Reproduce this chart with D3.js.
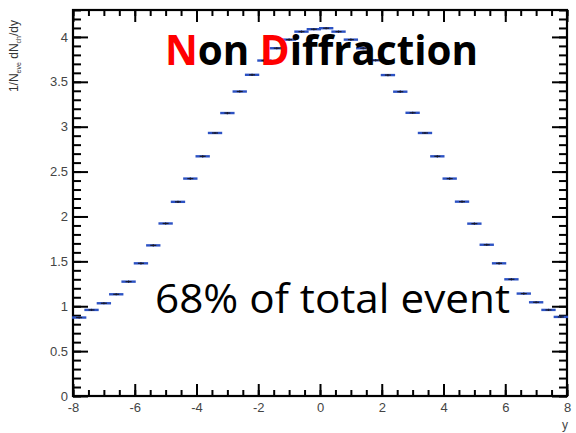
<!DOCTYPE html>
<html>
<head>
<meta charset="utf-8">
<script src="https://cdn.jsdelivr.net/npm/d3@7"></script>
<style>
  body { margin: 0; background: #fff; }
  .tick text { font-family: "Liberation Sans", Arial, sans-serif; fill: #444; }
</style>
</head>
<body>
<div id="chart"></div>
<script>
// bin centres (width 0.4) and the measured dN/dy per bin
var binCenters = d3.range(40).map(function(i) { return +(-7.8 + i * 0.4).toFixed(1); });
var binValues = [
  0.874, 0.959, 1.033, 1.133, 1.274, 1.478, 1.678, 1.922, 2.163, 2.422,
  2.670, 2.930, 3.152, 3.392, 3.578, 3.737, 3.874, 3.970, 4.059, 4.086,
  4.097, 4.059, 3.970, 3.874, 3.740, 3.575, 3.390, 3.155, 2.930, 2.670,
  2.422, 2.165, 1.920, 1.685, 1.478, 1.300, 1.141, 1.044, 0.959, 0.881
];
var binErrors = binValues.map(function(v) { return 0.012; });
var xMajorTicks = [-8, -6, -4, -2, 0, 2, 4, 6, 8];
var yMajorTicks = [0, 0.5, 1, 1.5, 2, 2.5, 3, 3.5, 4];

var margin = {top: 10, right: 9, bottom: 37, left: 73},
    width = 576 - margin.left - margin.right,
    height = 433 - margin.top - margin.bottom;

var svg = d3.select("#chart")
  .append("svg")
    .attr("width", 576)
    .attr("height", 433)
  .append("g")
    .attr("transform", "translate(" + margin.left + "," + margin.top + ")");

var x = d3.scaleLinear().domain([-8, 8]).range([0, width]);
var y = d3.scaleLinear().domain([0, 4.3]).range([height, 0]);

var xMinor = d3.range(-8, 8.01, 0.5);
var yMinor = d3.range(0, 4.31, 0.1);
var plainNum = function(d) { return String(d); };

function styleAxis(g) {
  g.select(".domain").remove();
  g.selectAll(".tick line").attr("stroke", "#000").attr("stroke-width", 2);
}

// bottom axis (ticks point inward)
svg.append("g")
  .attr("transform", "translate(0," + height + ")")
  .call(d3.axisBottom(x).tickValues(xMinor).tickSize(-6).tickFormat(""))
  .call(styleAxis);
svg.append("g")
  .attr("transform", "translate(0," + height + ")")
  .call(d3.axisBottom(x).tickValues(xMajorTicks).tickSize(-12).tickPadding(7).tickFormat(plainNum))
  .call(styleAxis)
  .selectAll("text").style("font-size", "13px");

// top axis
svg.append("g")
  .call(d3.axisTop(x).tickValues(xMinor).tickSize(-6).tickFormat(""))
  .call(styleAxis);
svg.append("g")
  .call(d3.axisTop(x).tickValues(xMajorTicks).tickSize(-12).tickFormat(""))
  .call(styleAxis);

// left axis
svg.append("g")
  .call(d3.axisLeft(y).tickValues(yMinor).tickSize(-8).tickFormat(""))
  .call(styleAxis);
svg.append("g")
  .call(d3.axisLeft(y).tickValues(yMajorTicks).tickSize(-15).tickPadding(5).tickFormat(plainNum))
  .call(styleAxis)
  .selectAll("text").style("font-size", "13px");

// right axis
svg.append("g")
  .attr("transform", "translate(" + width + ",0)")
  .call(d3.axisRight(y).tickValues(yMinor).tickSize(-8).tickFormat(""))
  .call(styleAxis);
svg.append("g")
  .attr("transform", "translate(" + width + ",0)")
  .call(d3.axisRight(y).tickValues(yMajorTicks).tickSize(-15).tickFormat(""))
  .call(styleAxis);

// frame
svg.append("rect")
  .attr("x", 0).attr("y", 0)
  .attr("width", width).attr("height", height)
  .attr("fill", "none")
  .attr("stroke", "#000")
  .attr("stroke-width", 2.2);

// data markers: horizontal bin-width bar + small error bar
var half = (x(0.4) - x(0)) / 2;
var pts = svg.append("g").selectAll("g")
  .data(binCenters.map(function(c, i) { return {c: c, v: binValues[i], e: binErrors[i]}; }))
  .enter().append("g");
pts.append("line")
  .attr("x1", function(d) { return x(d.c) - half - 1; })
  .attr("x2", function(d) { return x(d.c) + half + 1; })
  .attr("y1", function(d) { return y(d.v); })
  .attr("y2", function(d) { return y(d.v); })
  .attr("stroke", "#2c52c4")
  .attr("stroke-width", 2.4);
pts.append("line")
  .attr("x1", function(d) { return x(d.c) - 3; })
  .attr("x2", function(d) { return x(d.c) + 3; })
  .attr("y1", function(d) { return y(d.v); })
  .attr("y2", function(d) { return y(d.v); })
  .attr("stroke", "#1a1a2a")
  .attr("stroke-width", 1.2);
pts.append("line")
  .attr("x1", function(d) { return x(d.c); })
  .attr("x2", function(d) { return x(d.c); })
  .attr("y1", function(d) { return y(d.v + d.e); })
  .attr("y2", function(d) { return y(d.v - d.e); })
  .attr("stroke", "#1a1a2a")
  .attr("stroke-width", 1.2);

// axis titles
svg.append("text")
  .attr("x", width + 1)
  .attr("y", height + 33)
  .attr("text-anchor", "end")
  .style("font-family", "Liberation Sans, Arial, sans-serif")
  .style("font-size", "12px")
  .style("fill", "#444")
  .text("y");

var yl = svg.append("text")
  .attr("transform", "translate(" + (-55) + ",10) rotate(-90)")
  .attr("text-anchor", "end")
  .style("font-family", "Liberation Sans, Arial, sans-serif")
  .style("font-size", "12px")
  .style("fill", "#333");
yl.append("tspan").text("1/N");
yl.append("tspan").attr("dy", 3).style("font-size", "7px").text("eve");
yl.append("tspan").attr("dy", -3).text(" dN");
yl.append("tspan").attr("dy", 3).style("font-size", "7px").text("ch");
yl.append("tspan").attr("dy", -3).text("/dy");

// annotations
var title = svg.append("text")
  .attr("x", 165 - margin.left)
  .attr("y", 65 - margin.top)
  .attr("textLength", 313)
  .attr("lengthAdjust", "spacingAndGlyphs")
  .style("font-family", "Open Sans, Liberation Sans, sans-serif")
  .style("font-weight", "bold")
  .style("font-size", "41px");
title.append("tspan").attr("fill", "#ff0000").text("N");
title.append("tspan").attr("fill", "#000").text("on ");
title.append("tspan").attr("fill", "#ff0000").text("D");
title.append("tspan").attr("fill", "#000").text("iffraction");

svg.append("text")
  .attr("x", 155 - margin.left)
  .attr("y", 313 - margin.top)
  .attr("textLength", 355)
  .attr("lengthAdjust", "spacingAndGlyphs")
  .style("font-family", "Open Sans, Liberation Sans, sans-serif")
  .style("font-size", "41px")
  .style("fill", "#000")
  .text("68% of total event");
</script>
</body>
</html>
